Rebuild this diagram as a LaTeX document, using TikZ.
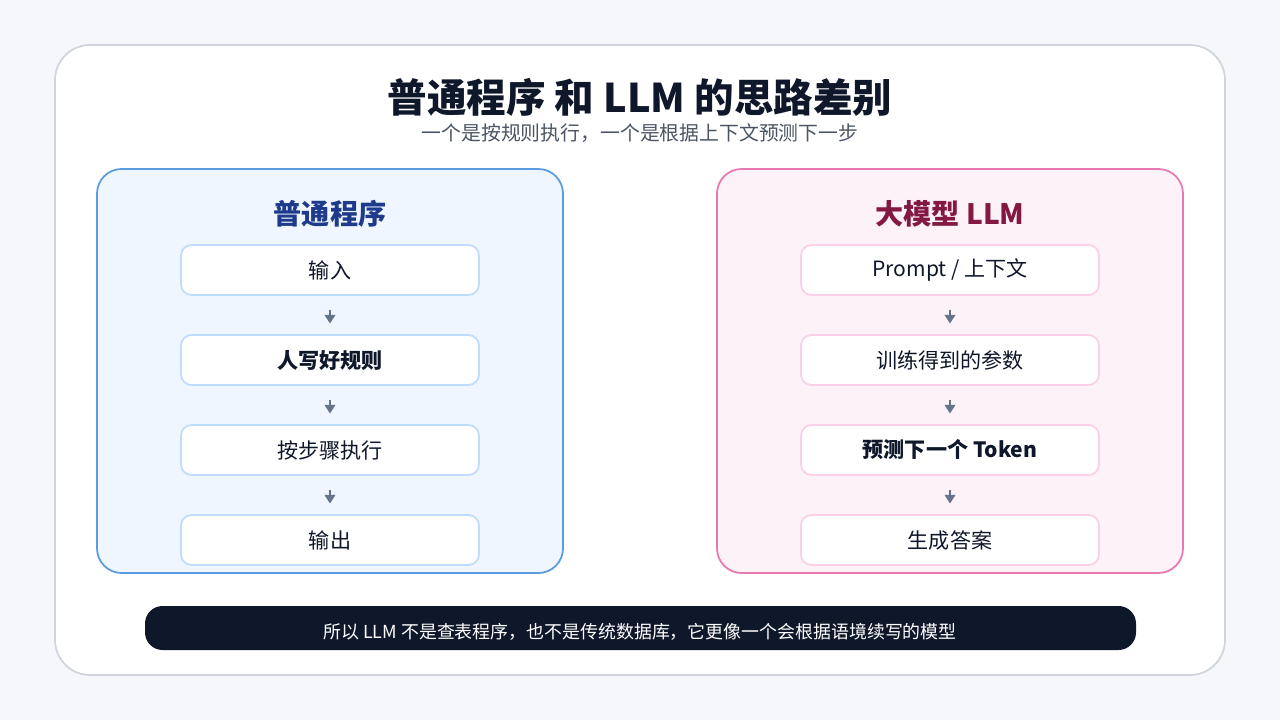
\documentclass[tikz,border=0pt]{standalone}
\usepackage{fontspec}
\setmainfont{Noto Sans CJK SC}
\usepackage{tikz}
\usetikzlibrary{arrows.meta,positioning}
\definecolor{pagebg}{HTML}{F5F7FA}
\definecolor{cardline}{HTML}{D0D5DD}
\definecolor{ink}{HTML}{0F172A}
\definecolor{subgray}{HTML}{4B5563}
\definecolor{bluefill}{HTML}{EFF6FF}
\definecolor{blueline}{HTML}{5B9BE0}
\definecolor{bluebox}{HTML}{BFDBFE}
\definecolor{bluetitle}{HTML}{1E3A8A}
\definecolor{pinkfill}{HTML}{FDF2F8}
\definecolor{pinkline}{HTML}{E879B0}
\definecolor{pinkbox}{HTML}{FBCFE8}
\definecolor{pinktitle}{HTML}{831843}
\definecolor{arrowgray}{HTML}{64748B}
\tikzset{
  step/.style={draw=#1, line width=1pt, fill=white, rounded corners=6pt,
    minimum width=5.96cm, minimum height=1cm, font=\fontsize{12}{14}\selectfont, text=ink},
  flow/.style={-{Triangle[length=5pt,width=6pt]}, arrowgray, line width=1.4pt}
}
\begin{document}
\begin{tikzpicture}[x=0.02cm,y=-0.02cm]
%%%%% Background %%%%%
\fill[pagebg] (0,0) rectangle (1280,720);
\draw[fill=white,draw=cardline,line width=1pt,rounded corners=20pt] (55,45) rectangle (1225,675);
%%%%% Title %%%%%
\node[font=\fontsize{22.5}{26}\selectfont\bfseries, text=ink] (title) at (640,97) {普通程序 和 LLM 的思路差别};
\node[font=\fontsize{11.3}{14}\selectfont, text=subgray] (subtitle) at (640,133) {一个是按规则执行，一个是根据上下文预测下一步};
%%%%% Left panel %%%%%
\draw[fill=bluefill,draw=blueline,line width=1pt,rounded corners=14pt] (97,169) rectangle (563,573);
\node[font=\fontsize{16}{18}\selectfont\bfseries, text=bluetitle] (lefthead) at (330,214) {普通程序};
\node[step=bluebox] (l1) at (330,270) {输入};
\node[step=bluebox] (l2) at (330,360) {\bfseries 人写好规则};
\node[step=bluebox] (l3) at (330,450) {按步骤执行};
\node[step=bluebox] (l4) at (330,540) {输出};
%%%%% Right panel %%%%%
\draw[fill=pinkfill,draw=pinkline,line width=1pt,rounded corners=14pt] (717,169) rectangle (1183,573);
\node[font=\fontsize{16}{18}\selectfont\bfseries, text=pinktitle] (righthead) at (950,214) {大模型 LLM};
\node[step=pinkbox] (r1) at (950,270) {Prompt / 上下文};
\node[step=pinkbox] (r2) at (950,360) {训练得到的参数};
\node[step=pinkbox] (r3) at (950,450) {\bfseries 预测下一个 Token};
\node[step=pinkbox] (r4) at (950,540) {生成答案};
%%%%% Arrows %%%%%
\foreach \a/\b in {l1/l2,l2/l3,l3/l4,r1/r2,r2/r3,r3/r4}{
\draw[flow] ([yshift=-8pt]\a.south) -- ([yshift=6pt]\b.north);
}
%%%%% Footer %%%%%
\fill[ink,rounded corners=10pt] (145,606) rectangle (1136,650);
\node[font=\fontsize{10.2}{12}\selectfont, text=white] (footer) at (640,632) {所以 LLM 不是查表程序，也不是传统数据库，它更像一个会根据语境续写的模型};
\end{tikzpicture}
\end{document}
